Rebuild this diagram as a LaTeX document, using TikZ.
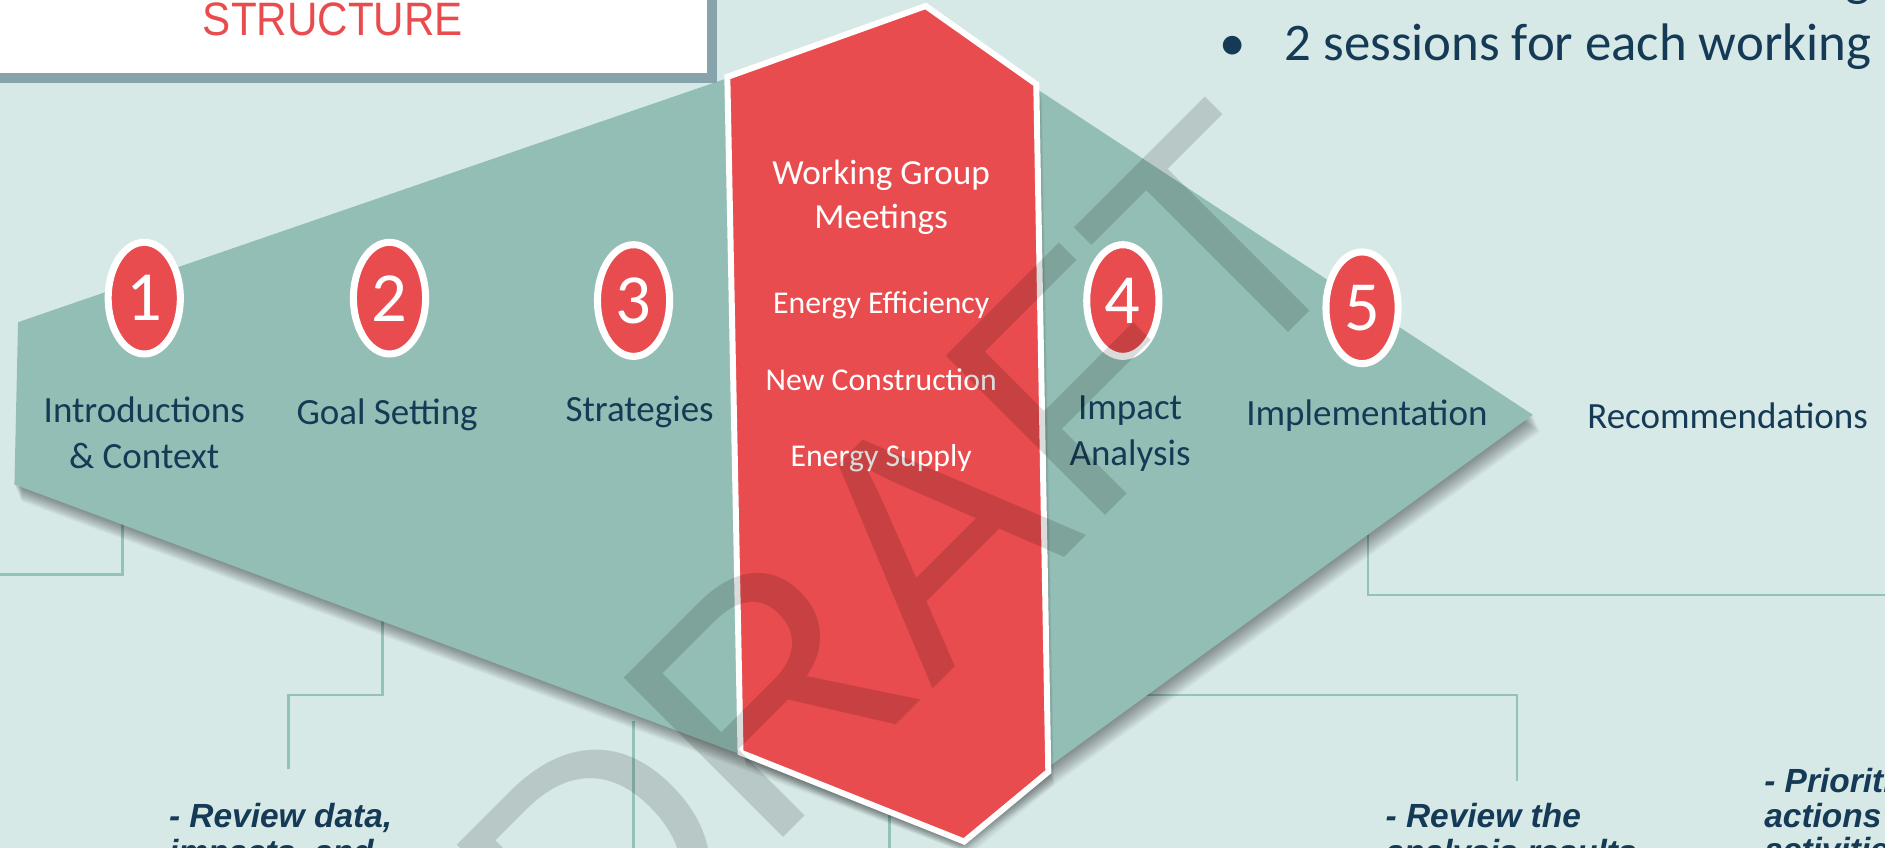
\documentclass[tikz,border=0pt]{standalone}
\usepackage{fontspec}
\setmainfont{Carlito}
\newfontfamily\arialfont{Liberation Sans}
\usetikzlibrary{shapes,calc}

\definecolor{slidebg}{HTML}{D7E9E7}
\definecolor{phasegreen}{HTML}{93BEB5}
\definecolor{wgred}{HTML}{E94C4E}
\definecolor{navy}{HTML}{143A56}
\definecolor{titlegray}{HTML}{87A3AC}
\definecolor{linkgreen}{HTML}{93C3B8}

\tikzset{
  numdisc/.style={ellipse, fill=wgred, draw=white, line width=2pt, minimum width=20.5pt, minimum height=31.7pt, inner sep=0pt, text=white, font=\fontsize{20}{24}\selectfont},
  phasetext/.style={text=navy, align=center, font=\fontsize{10.5}{13}\selectfont},
  wgtext/.style={text=white, font=\fontsize{9}{11}\selectfont},
  notetext/.style={text=navy, anchor=base west, inner sep=0pt, font=\arialfont\bfseries\itshape\fontsize{9.5}{11}\selectfont},
  linkline/.style={linkgreen, line width=0.7pt},
}

\begin{document}
\begin{tikzpicture}[x=0.012cm, y=-0.012cm]
\path[use as bounding box] (0,0) rectangle (1568,705);
\clip (0,0) rectangle (1568,705);
\fill[slidebg] (0,0) rectangle (1568,705);

% links down to the notes
\coordinate (c-intro) at (102,420);
\coordinate (c-intro-end) at (-5,478);
\coordinate (c-goal) at (318,500);
\coordinate (c-goal-mid) at (240,578);
\coordinate (c-goal-end) at (240,640);
\coordinate (c-strat) at (527,600);
\coordinate (c-strat-end) at (527,710);
\coordinate (c-wg) at (740,660);
\coordinate (c-wg-end) at (740,710);
\coordinate (c-impact) at (950,578);
\coordinate (c-impact-end) at (1262,650);
\coordinate (c-impl) at (1138,420);
\coordinate (c-impl-end) at (1575,495);

\draw[linkline] (c-intro) |- (c-intro-end);
\draw[linkline] (c-goal) |- (c-goal-mid) -- (c-goal-end);
\draw[linkline] (c-strat) -- (c-strat-end);
\draw[linkline] (c-wg) -- (c-wg-end);
\draw[linkline] (c-impact) -| (c-impact-end);
\draw[linkline] (c-impl) |- (c-impl-end);

% the green phase shape
\foreach \s in {1,...,10}
  \fill[black, opacity=0.045, shift={(0.6*\s,1.4*\s)}] (15,268) -- (765,10) -- (1275,345) -- (795,694) -- (12,403) -- cycle;
\fill[phasegreen] (15,268) -- (765,10) -- (1275,345) -- (795,694) -- (12,403) -- cycle;

% working group band
\foreach \s in {1,...,8}
  \fill[black, opacity=0.04, shift={(0.6*\s,1.4*\s)}] (605,64) -- (770,5) -- (862,70) -- (872,642) -- (802,700) -- (616,626) -- cycle;
\draw[fill=wgred, draw=white, line width=1.7pt] (605,64) -- (770,5) -- (862,70) -- (872,642) -- (802,700) -- (616,626) -- cycle;

\node[wgtext, align=center, font=\fontsize{10}{12.6}\selectfont] (wg) at (733,164) {Working Group\\Meetings};
\node[wgtext] (wg-eff) at (733,254) {Energy Efficiency};
\node[wgtext] (wg-new) at (733,316) {New Construction};
\node[wgtext] (wg-sup) at (733,381) {Energy Supply};

% numbered steps
\node[numdisc] (n1) at (120,248) {1};
\node[numdisc] (n2) at (324,248) {2};
\node[numdisc] (n3) at (527,250) {3};
\node[numdisc] (n4) at (934,250) {4};
\node[numdisc] (n5) at (1133,256) {5};

\node[phasetext] (intro) at (120,360) {Introductions\\\& Context};
\node[phasetext] (goal) at (322,345) {Goal Setting};
\node[phasetext] (strat) at (532,343) {Strategies};
\node[phasetext] (impact) at (940,361) {Impact\\Analysis};
\node[phasetext] (impl) at (1137,346) {Implementation};
\node[phasetext] (recom) at (1437,346) {Recommendations};

% title box
\fill[white] (-10,-10) rectangle (592,65);
\draw[titlegray, line width=2.8pt] (-10,65) -- (592,65) -- (592,-10);
\node[text=wgred, font=\arialfont\fontsize{13.3}{15}\selectfont, xscale=0.9] (title) at (277,16) {STRUCTURE};

% bullet text
\node[text=navy, font=\fontsize{15}{18}\selectfont, anchor=base east] (gtail) at (1566,-4) {g};
\node[text=navy, font=\fontsize{15}{18}\selectfont, anchor=base] (bullet) at (1025,50) {\textbullet};
\node[text=navy, font=\fontsize{15}{18}\selectfont, anchor=base west, inner sep=0pt] (sessions) at (1068,50) {2 sessions for each working};

% notes
\node[notetext] (note-data) at (140,688) {- Review data,};
\node[notetext] (note-data2) at (140,718) {impacts, and};
\node[notetext] (note-res) at (1152,688) {- Review the};
\node[notetext] (note-res2) at (1152,718) {analysis results};
\node[notetext] (note-pri) at (1467,659) {- Prioritize};
\node[notetext] (note-pri2) at (1467,688) {actions and};
\node[notetext] (note-pri3) at (1467,717) {activities};

% watermark
\node[rotate=45, text=black, opacity=0.14, font=\arialfont\fontsize{93}{100}\selectfont] (draft) at (752,464) {DRAFT};

\end{tikzpicture}
\end{document}
